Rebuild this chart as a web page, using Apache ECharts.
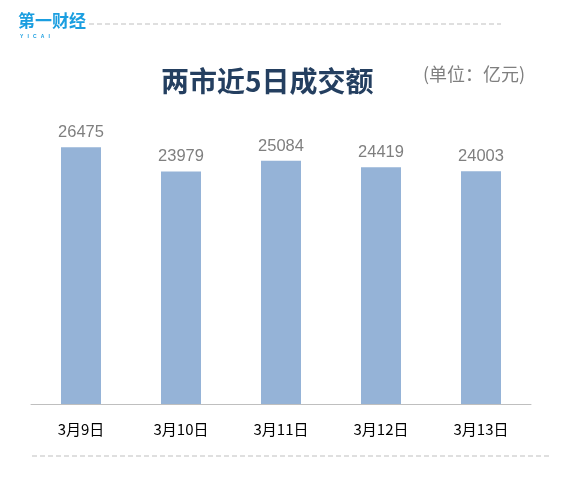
<!DOCTYPE html>
<html><head><meta charset="utf-8">
<script src="https://cdn.jsdelivr.net/npm/echarts@6/dist/echarts.min.js"></script>
<style>html,body{margin:0;padding:0;background:#fff}#c{width:574px;height:482px}</style>
</head><body><div id="c"></div>
<script>
const categories = ['3月9日','3月10日','3月11日','3月12日','3月13日'];
const turnover = [26475, 23979, 25084, 24419, 24003];

const chart = echarts.init(document.getElementById('c'));
chart.setOption({
  animation: false,
  backgroundColor: '#fff',
  title: {
    text: '两市近5日成交额', left: 156, top: 62,
    textStyle: {fontFamily: 'Noto Sans CJK SC', fontWeight: 'bold', fontSize: 28, color: '#243F60'}
  },
  grid: {left: 31, right: 43, top: 113, bottom: 78},
  xAxis: {
    type: 'category', data: categories,
    axisLine: {lineStyle: {color: '#bfbfbf', width: 1}},
    axisTick: {show: false},
    axisLabel: {color: '#000', fontSize: 15, fontFamily: 'Noto Sans CJK SC', margin: 18}
  },
  yAxis: {type: 'value', min: 0, max: 30000, show: false, splitLine: {show: false}},
  series: [{
    type: 'bar', data: turnover, barWidth: 40,
    itemStyle: {color: '#95B3D7'},
    label: {show: true, position: 'top', distance: 6, color: '#7f7f7f', fontSize: 16.5, fontFamily: 'Liberation Sans'}
  }],
  graphic: [
    {type: 'text', left: 18, top: 12, style: {text: '第一财经', fill: '#1a9ee0', font: 'bold 17px "Noto Sans CJK SC"'}},
    {type: 'text', left: 20, top: 34, style: {text: 'Y   I   C   A   I', fill: '#1a9ee0', font: 'bold 5px "Liberation Sans"'}},
    {type: 'line', shape: {x1: 89, y1: 24, x2: 501, y2: 24}, style: {stroke: '#bfbfbf', lineWidth: 1, lineDash: [5, 3]}},
    {type: 'line', shape: {x1: 32, y1: 456, x2: 550, y2: 456}, style: {stroke: '#bfbfbf', lineWidth: 1, lineDash: [5, 3]}},
    {type: 'text', left: 423, top: 65, style: {text: '(单位：亿元)', fill: '#7f7f7f', font: '18px "Noto Sans CJK SC"'}}
  ]
});
</script></body></html>
